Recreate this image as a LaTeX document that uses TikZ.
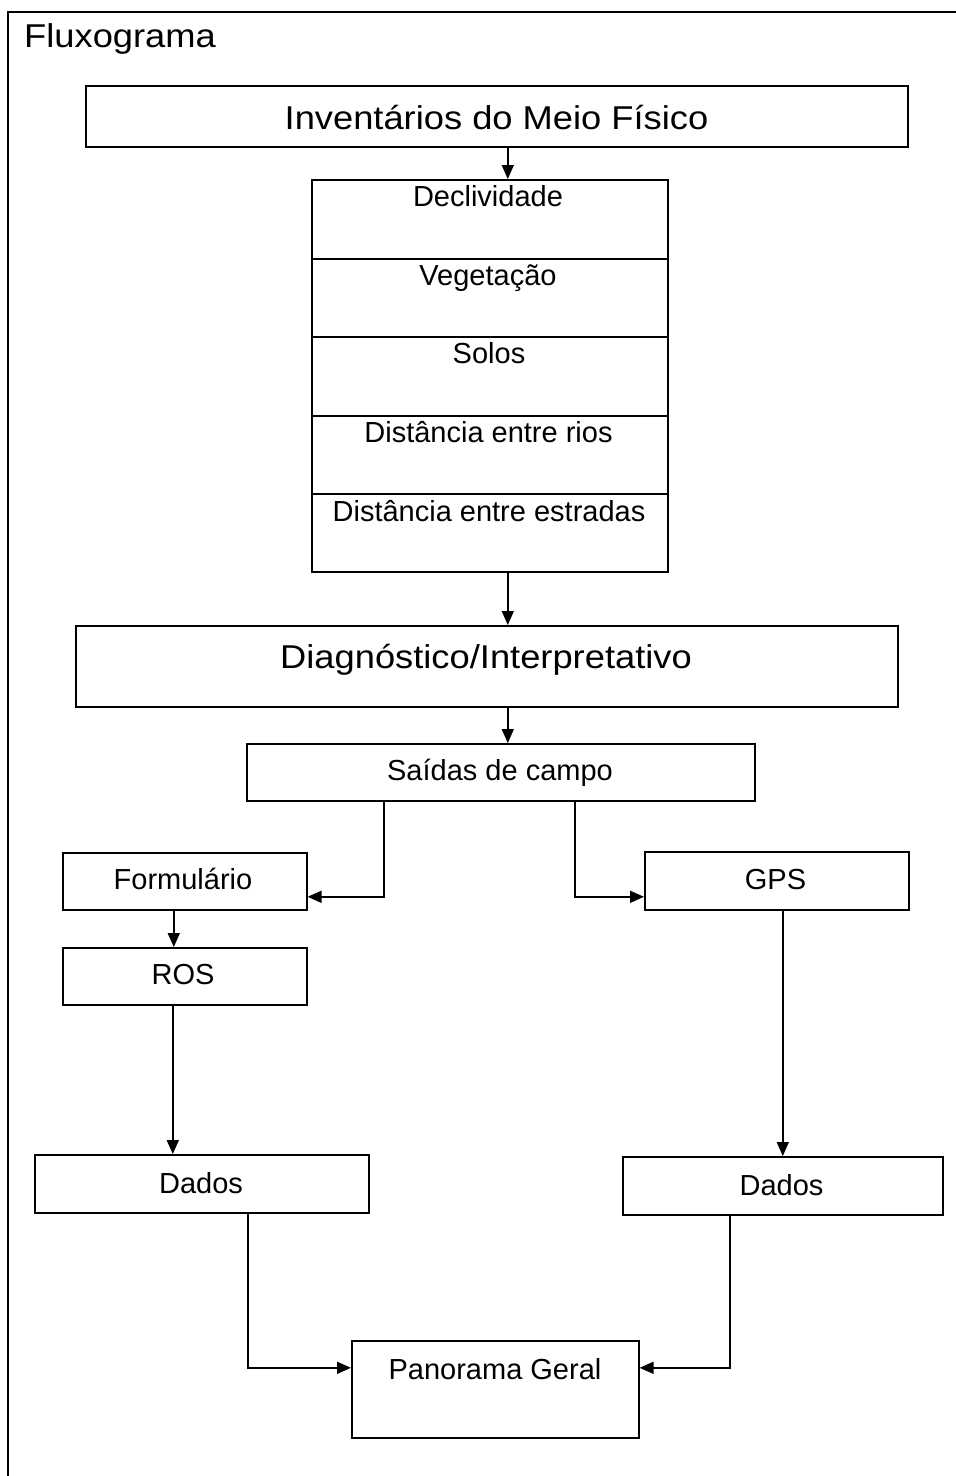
\documentclass[tikz,border=0pt]{standalone}
\usepackage{fontspec}
\setmainfont{Liberation Sans}
\newfontfamily\bigfont[FakeStretch=1.1]{Liberation Sans}
\usetikzlibrary{arrows.meta}
\tikzset{
  lw/.style={line width=1.6pt},
  box/.style={draw, lw, inner sep=0pt, anchor=north west},
  bigtxt/.style={inner sep=0pt, anchor=base, font=\bigfont\fontsize{33}{38}\selectfont},
  smalltxt/.style={inner sep=0pt, anchor=base, font=\fontsize{29}{34}\selectfont},
  arr/.style={lw, -{Triangle[length=14pt,width=12pt]}},
}
\newcommand{\bx}[5]{\node[box, minimum width=#4pt, minimum height=#5pt] (#1) at (#2,#3) {};}
\begin{document}
\begin{tikzpicture}[x=1pt,y=-1pt]
\useasboundingbox (0,0) rectangle (956,1476);
\clip (0,0) rectangle (956,1476);
% frame
\draw[lw] (970,12) -- (8,12) -- (8,1490);
\node[inner sep=0pt, anchor=base west, font=\bigfont\fontsize{33}{38}\selectfont] (title) at (24,47) {Fluxograma};
% boxes
\bx{inv}{85}{85}{822}{61}
\bx{c1}{311}{179}{356}{79}
\bx{c2}{311}{258}{356}{78}
\bx{c3}{311}{336}{356}{79}
\bx{c4}{311}{415}{356}{78}
\bx{c5}{311}{493}{356}{78}
\bx{diag}{75}{625}{822}{81}
\bx{said}{246}{743}{508}{57}
\bx{form}{62}{852}{244}{57}
\bx{gps}{644}{851}{264}{58}
\bx{ros}{62}{947}{244}{57}
\bx{dadL}{34}{1154}{334}{58}
\bx{dadR}{622}{1156}{320}{58}
\bx{pan}{351}{1340}{287}{97}
% texts
\node[bigtxt] (tinv) at (496.5,129) {Inventários do Meio Físico};
\node[smalltxt] (tc1) at (488,206) {Declividade};
\node[smalltxt] (tc2) at (488,285) {Vegetação};
\node[smalltxt] (tc3) at (489,363) {Solos};
\node[smalltxt] (tc4) at (488.5,442.5) {Distância entre rios};
\node[smalltxt] (tc5) at (489,521.5) {Distância entre estradas};
\node[bigtxt] (tdiag) at (486,668) {Diagnóstico/Interpretativo};
\node[smalltxt] (tsaid) at (500,780.5) {Saídas de campo};
\node[smalltxt] (tform) at (183,889) {Formulário};
\node[smalltxt] (tgps) at (775.5,889) {GPS};
\node[smalltxt] (tros) at (183,984) {ROS};
\node[smalltxt] (tdadL) at (201,1193) {Dados};
\node[smalltxt] (tdadR) at (781.5,1195) {Dados};
\node[smalltxt] (tpan) at (495,1379) {Panorama Geral};
% connectors
\draw[arr] ([xshift=11pt]inv.south) -- ([xshift=11pt]inv.south |- c1.north);
\draw[arr] ([xshift=18pt]c5.south) -- ([xshift=18pt]c5.south |- diag.north);
\draw[arr] ([xshift=21pt]diag.south) -- ([xshift=21pt]diag.south |- said.north);
\coordinate (sL) at ([xshift=-117pt]said.south);
\coordinate (sR) at ([xshift=74pt]said.south);
\draw[arr] (sL) |- ([yshift=-15.5pt]form.east);
\draw[arr] (sR) |- ([yshift=-16pt]gps.west);
\draw[arr] ([xshift=-11pt]form.south) -- ([xshift=-11pt]form.south |- ros.north);
\draw[arr] ([xshift=-12pt]ros.south) -- ([xshift=-12pt]ros.south |- dadL.north);
\draw[arr] ([xshift=6pt]gps.south) -- ([xshift=6pt]gps.south |- dadR.north);
\coordinate (dL) at ([xshift=46pt]dadL.south);
\coordinate (dR) at ([xshift=-53pt]dadR.south);
\draw[arr] (dL) |- ([yshift=21.5pt]pan.west);
\draw[arr] (dR) |- ([yshift=21.5pt]pan.east);
\end{tikzpicture}
\end{document}
